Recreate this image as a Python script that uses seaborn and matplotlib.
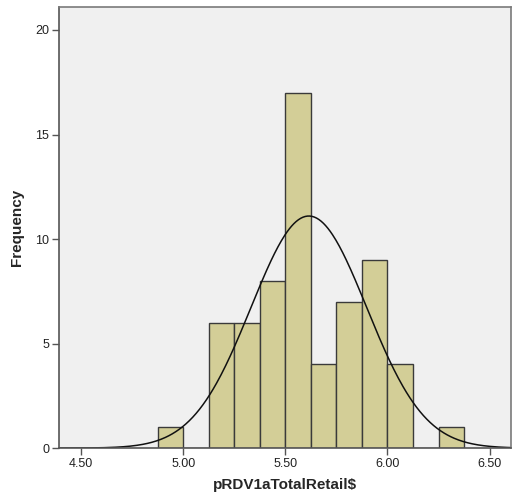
import numpy as np
import pandas as pd
import matplotlib
matplotlib.use("Agg")
import matplotlib.pyplot as plt
import seaborn as sns

# Histogram bins (width 0.125)
bin_centers = [4.9375, 5.0625, 5.1875, 5.3125, 5.4375, 5.5625,
               5.6875, 5.8125, 5.9375, 6.0625, 6.1875, 6.3125]
counts = [1, 0, 6, 6, 8, 17, 4, 7, 9, 4, 0, 1]
bin_edges = [4.875 + 0.125 * i for i in range(13)]

# Normal curve parameters (estimated)
mean_val = 5.615
sd_val = 0.283
n_total = sum(counts)
bin_width = 0.125

xticks = [4.50, 5.00, 5.50, 6.00, 6.50]
yticks = [0, 5, 10, 15, 20]

df = pd.DataFrame({"value": bin_centers, "count": counts})

sns.set_style("white")
plt.rcParams['font.family'] = ['Arial', 'Liberation Sans', 'DejaVu Sans']

fig = plt.figure(figsize=(5.13, 4.99), dpi=100)
ax = fig.add_axes([0.115, 0.102, 0.882, 0.884])
ax.set_facecolor("#f0f0f0")

sns.histplot(data=df, x="value", weights="count", bins=bin_edges,
             color="#d3ce97", alpha=1, edgecolor="#3a3a3a", linewidth=1.0, ax=ax)

xs = np.linspace(4.39, 6.61, 400)
ys = n_total * bin_width / (sd_val * np.sqrt(2 * np.pi)) * np.exp(-0.5 * ((xs - mean_val) / sd_val) ** 2)
sns.lineplot(x=xs, y=ys, color="#111111", linewidth=1.1, ax=ax)

ax.set_xlim(4.392, 6.607)
ax.set_ylim(0, 21.1)
ax.set_xticks(xticks)
ax.set_xticklabels([f"{t:.2f}" for t in xticks])
ax.set_yticks(yticks)
ax.tick_params(axis="both", direction="out", length=5, width=1, color="#555555",
               labelsize=9, labelcolor="#222222", pad=2, bottom=True, left=True)
for s in ax.spines.values():
    s.set_color("#7a7a7a")
    s.set_linewidth(1.2)
ax.spines["left"].set_color("#555555")
ax.spines["bottom"].set_color("#555555")

ax.set_xlabel("pRDV1aTotalRetail$", fontsize=11, fontweight="bold", labelpad=6)
ax.set_ylabel("Frequency", fontsize=11, fontweight="bold", labelpad=8)

fig.savefig("out.png", dpi=100)
